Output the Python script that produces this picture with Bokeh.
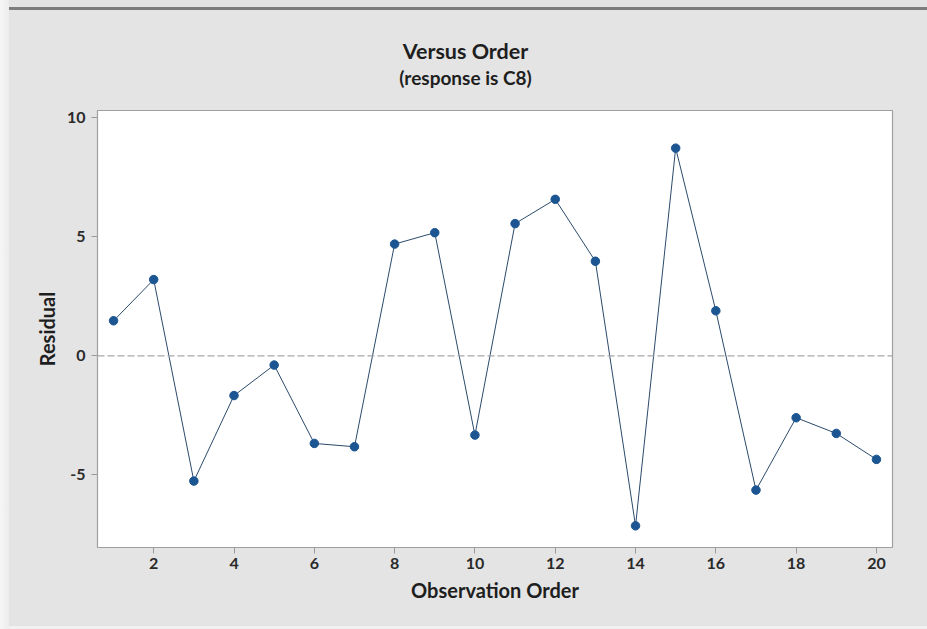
from bokeh.plotting import figure
from bokeh.models import Span, FixedTicker, Div
from bokeh.layouts import column, row
from bokeh.core.properties import value
from bokeh.embed import file_html
from bokeh.resources import INLINE

# Residuals in observation order
order = list(range(1, 21))
residual = [1.47, 3.20, -5.26, -1.67, -0.39, -3.68, -3.82, 4.69, 5.17, -3.33,
            5.55, 6.57, 3.97, -7.14, 8.72, 1.89, -5.64, -2.60, -3.26, -4.35]
x_ticks = [2, 4, 6, 8, 10, 12, 14, 16, 18, 20]
y_ticks = [-5, 0, 5, 10]
heading = "Versus Order"
subheading = "(response is C8)"

FONT = "Lato"
BG = "#e4e4e4"
EDGE = "#f1f1f1"
W = 918
LEFT, RIGHT = 88, 35

# Heading strip; its frame lines up with the plot frame below (page x 97..892)
head = figure(width=W, height=95, output_backend="svg", toolbar_location=None,
              x_range=(97, 892), y_range=(0, 95), x_axis_type=None, y_axis_type=None,
              min_border_left=LEFT, min_border_right=RIGHT,
              min_border_top=0, min_border_bottom=0)
head.title = None
head.grid.visible = False
head.outline_line_color = None
head.background_fill_color = BG
head.border_fill_color = BG
head.text(x=[465], y=[55], text=[heading], text_align="center", text_baseline="middle",
          text_font=value(FONT), text_font_size="21.5px", text_font_style="bold",
          text_color="#1e1e1e")
head.text(x=[465], y=[28], text=[subheading], text_align="center", text_baseline="middle",
          text_font=value(FONT), text_font_size="19px", text_font_style="bold",
          text_color="#1e1e1e")

p = figure(width=W, height=521, output_backend="svg", toolbar_location=None,
           x_range=(0.6, 20.4), y_range=(-8.05, 10.3),
           min_border_left=LEFT, min_border_right=RIGHT,
           min_border_top=5, min_border_bottom=79)
p.title = None
p.background_fill_color = "white"
p.border_fill_color = BG
p.outline_line_color = "#a0a0a0"
p.outline_line_width = 1.2
p.grid.visible = False

# Zero reference line
p.add_layout(Span(location=0, dimension="width", line_color="#a8a8a8",
                  line_width=1.2, line_dash="7 3"))

p.line(order, residual, line_color="#2b4a6b", line_width=1)
p.scatter(order, residual, size=8.5, fill_color="#1b5592", line_color="#1b5592")

for ax in (p.xaxis[0], p.yaxis[0]):
    ax.axis_line_color = None
    ax.major_tick_line_color = "#9a9a9a"
    ax.major_tick_out = 6
    ax.major_tick_in = 0
    ax.minor_tick_line_color = None
    ax.major_label_text_font = FONT
    ax.major_label_text_font_size = "16px"
    ax.major_label_text_font_style = "bold"
    ax.major_label_text_color = "#2a2a2a"
    ax.axis_label_text_font = FONT
    ax.axis_label_text_font_size = "20px"
    ax.axis_label_text_font_style = "bold"
    ax.axis_label_text_color = "#1e1e1e"

p.xaxis.ticker = FixedTicker(ticks=x_ticks)
p.yaxis.ticker = FixedTicker(ticks=y_ticks)
p.yaxis.major_label_overrides = {-5: "-5"}
p.xaxis.axis_label = "Observation Order"
p.yaxis.axis_label = "Residual"
p.xaxis.major_label_standoff = 4
p.yaxis.major_label_standoff = 6
p.xaxis.axis_label_standoff = 6
p.yaxis.axis_label_standoff = 5

# Window chrome: dark rule on top, pale edges on the left and bottom
bar = Div(text="", width=W, height=10, margin=0,
          styles={"background": "linear-gradient(#e4e4e4 0px, #e4e4e4 7px, #7d7d7d 7px, #7d7d7d 10px)"})
bottom = Div(text="", width=W, height=3, margin=0, styles={"background": EDGE})
left = Div(text="", width=9, height=629, margin=0,
           styles={"background": "linear-gradient(to right, #f6f6f6, #ececec)"})

body = column(bar, head, p, bottom, spacing=0, styles={"background-color": BG})
layout = row(left, body, spacing=0, styles={"background-color": BG})
open("out.html", "w").write(file_html(layout, INLINE))
